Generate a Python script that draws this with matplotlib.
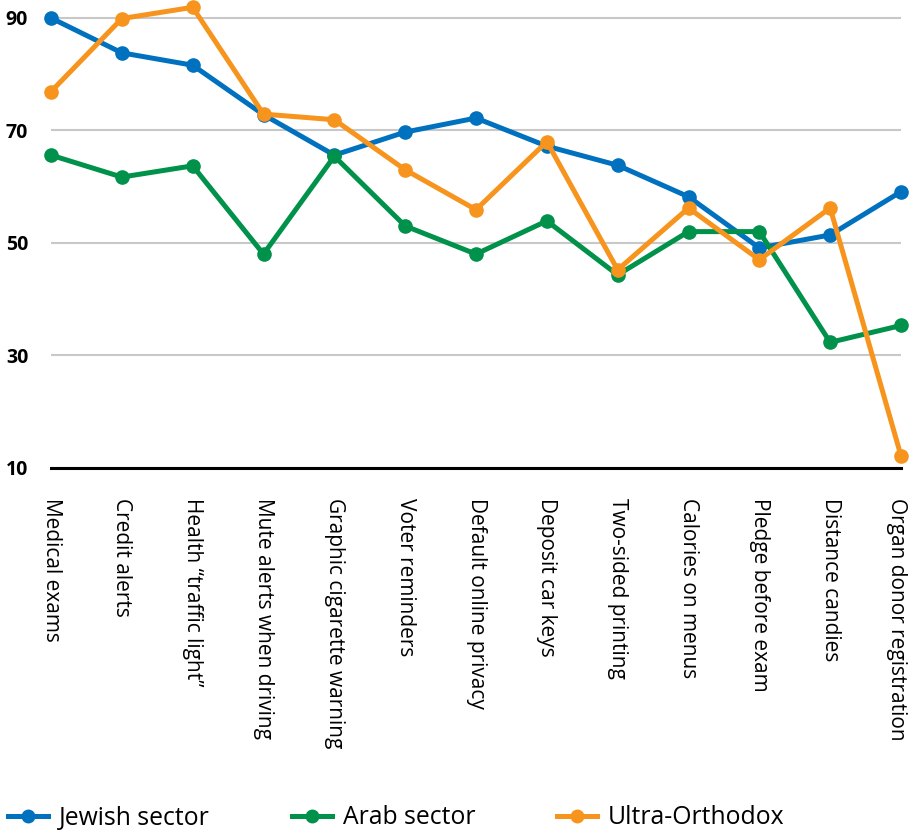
import matplotlib.pyplot as plt
import matplotlib.transforms as mtransforms
from matplotlib.lines import Line2D

# data
categories = ['Medical exams', 'Credit alerts', 'Health \u201ctraffic light\u201d',
              'Mute alerts when driving', 'Graphic cigarette warning',
              'Voter reminders', 'Default online privacy', 'Deposit car keys',
              'Two-sided printing', 'Calories on menus', 'Pledge before exam',
              'Distance candies', 'Organ donor registration']
jewish = [90.0, 83.8, 81.6, 72.8, 65.6, 69.7, 72.2, 67.2, 63.8, 58.2, 49.1, 51.4, 59.1]
arab = [65.6, 61.7, 63.7, 48.0, 65.4, 53.0, 48.0, 53.9, 44.3, 52.0, 52.0, 32.3, 35.3]
ultra = [76.9, 89.9, 91.9, 72.9, 71.9, 63.0, 55.9, 68.0, 45.2, 56.2, 47.0, 56.2, 12.1]
yticks = [10, 30, 50, 70, 90]

series = [('Jewish sector', jewish, '#0071BF'),
          ('Arab sector', arab, '#00914B'),
          ('Ultra-Orthodox', ultra, '#F7941E')]

fig = plt.figure(figsize=(9.09, 8.32), dpi=100)
ax = fig.add_axes([51/909, 1 - 467.7/832, 850/909, 467.7/832])

x = list(range(len(categories)))
for name, vals, col in series:
    ax.plot(x, vals, color=col, lw=3.6, marker='o', ms=9.5, clip_on=False,
            solid_joinstyle='round', zorder=3)

ax.set_xlim(0, len(categories) - 1)
ax.set_ylim(10, 93.2)
ax.set_yticks(yticks)
ax.yaxis.grid(True, color='#C8C8C8', lw=1.5)
ax.set_axisbelow(True)
for s in ['left', 'right', 'top']:
    ax.spines[s].set_visible(False)
ax.spines['bottom'].set_linewidth(2.2)
ax.spines['bottom'].set_color('black')
ax.tick_params(axis='y', length=0, pad=32.5)
ax.tick_params(axis='x', length=0, pad=22)
for lab in ax.get_yticklabels():
    lab.set_fontweight('bold')
    lab.set_fontsize(14)
    lab.set_family('Open Sans')
    lab.set_horizontalalignment('left')

ax.set_xticks(x)
ax.set_xticklabels(categories, rotation=-90, fontsize=15, family='Open Sans',
                   va='top', ha='center')
# nudge the last label so it stays inside the figure
last = ax.get_xticklabels()[-1]
last.set_transform(last.get_transform() +
                   mtransforms.ScaledTranslation(-4/100, 0, fig.dpi_scale_trans))

handles = [Line2D([0], [0], color=c, lw=3.6, marker='o', ms=9) for _, _, c in series]
fig.legend(handles, [s[0] for s in series], loc='center left',
           bbox_to_anchor=(8/909, 1 - 818/832), ncol=3, frameon=False,
           prop={'family': 'Open Sans', 'size': 17.8}, handlelength=1.62,
           handletextpad=0.45, columnspacing=3.3, borderaxespad=0, borderpad=0)

fig.savefig('out.png', dpi=100)
